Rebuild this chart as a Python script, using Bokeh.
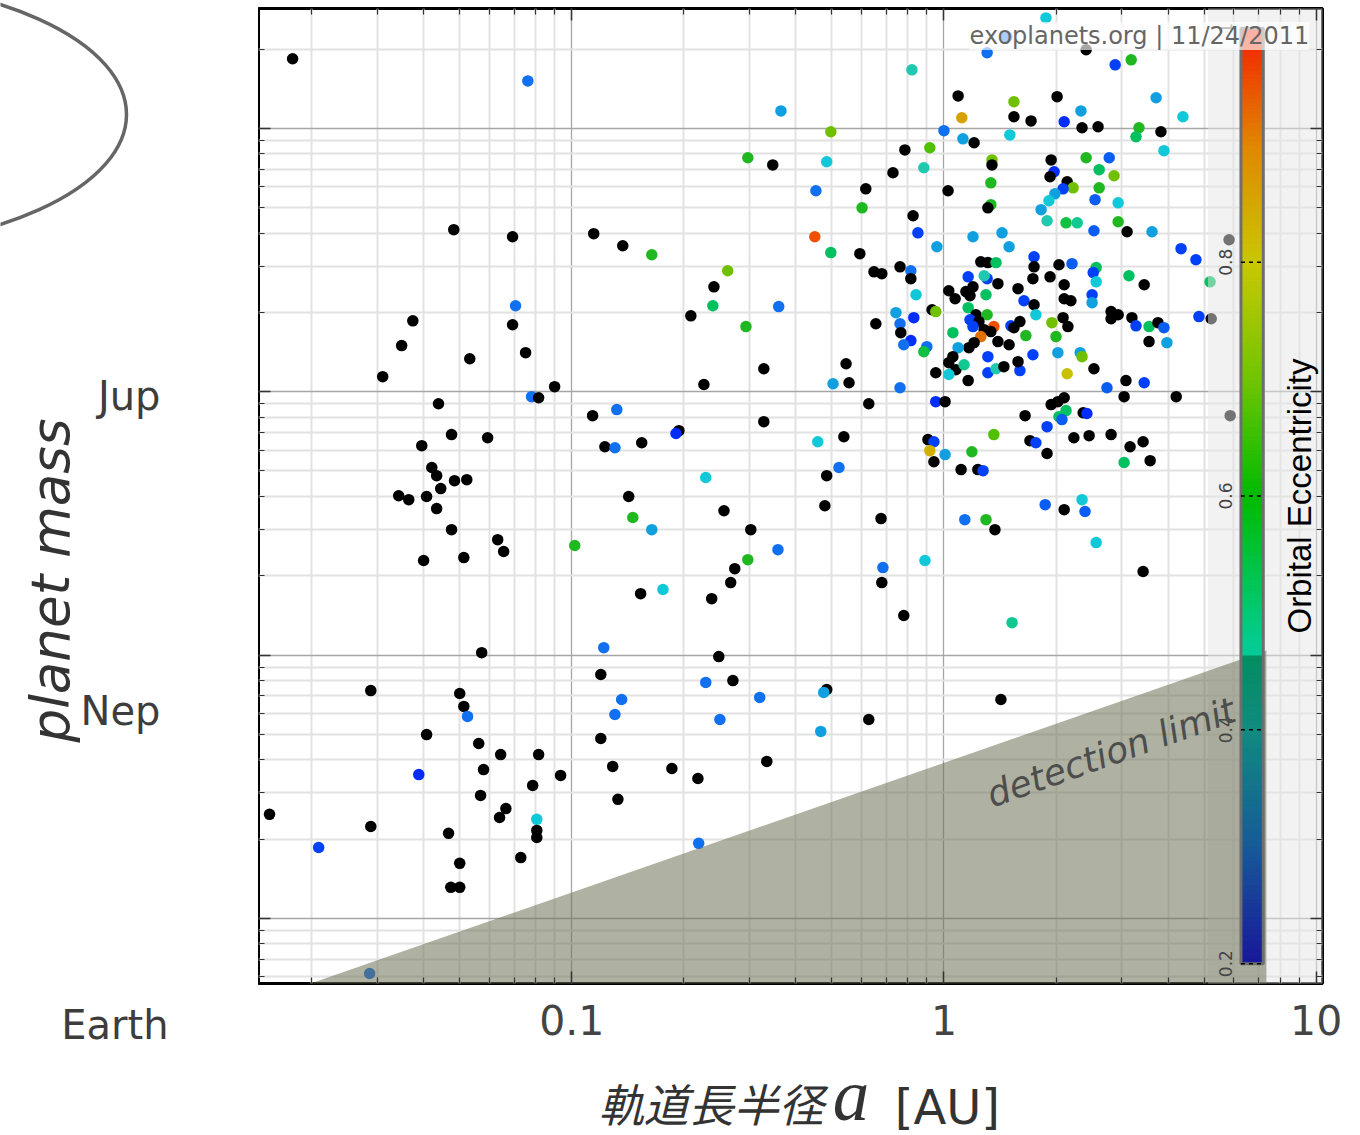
import numpy as np
from bokeh.plotting import figure
from bokeh.models import (Range1d, LogAxis, FixedTicker, NumeralTickFormatter, Label,
                          ColumnDataSource, LinearScale)
from bokeh.layouts import row, column
from bokeh.transform import linear_cmap
from bokeh.core.properties import value
from bokeh.embed import file_html
from bokeh.resources import INLINE

N = None  # eccentricity not known -> drawn black

# (log10 a [AU], log10 M [M_Jup], eccentricity)
inner_planets = [
    (-1.750, 1.264, N), (-1.118, 1.180, 0.10), (-1.317, 0.615, N), (-1.159, 0.588, N),
    (-1.151, 0.326, 0.10), (-1.427, 0.269, N), (-1.159, 0.254, N), (-1.457, 0.175, N),
    (-1.124, 0.148, N), (-1.274, 0.125, N), (-1.508, 0.057, N), (-1.046, 0.019, N),
    (-1.108, -0.019, 0.10), (-1.089, -0.023, N), (-1.358, -0.046, N), (-1.323, -0.163, N),
    (-1.226, -0.175, N), (-1.403, -0.205, N), (-1.376, -0.288, N), (-1.363, -0.319, N),
    (-1.315, -0.338, N), (-1.282, -0.334, N), (-1.352, -0.368, N), (-1.465, -0.395, N),
    (-1.438, -0.410, N), (-1.390, -0.398, N), (-1.363, -0.444, N), (-1.323, -0.524, N),
    (-1.199, -0.562, N), (-1.183, -0.607, N), (-1.290, -0.630, N), (-1.398, -0.641, N),
    (-1.242, -0.991, N), (-1.540, -1.135, N), (-1.301, -1.146, N), (-1.290, -1.195, N),
    (-1.280, -1.233, 0.10), (-1.390, -1.302, N), (-1.250, -1.336, N), (-1.191, -1.378, N),
    (-1.089, -1.378, N), (-1.237, -1.435, N), (-1.411, -1.454, 0.03), (-1.105, -1.495, N),
    (-1.030, -1.457, N), (-1.245, -1.533, N), (-1.177, -1.583, N), (-1.194, -1.617, N),
    (-1.094, -1.624, 0.20), (-1.812, -1.605, N), (-1.540, -1.651, N), (-1.680, -1.731, 0.05),
    (-1.331, -1.677, N), (-1.094, -1.666, N), (-1.094, -1.693, N), (-1.137, -1.769, N),
    (-1.301, -1.791, N), (-1.325, -1.882, N), (-1.301, -1.882, N), (-1.543, -2.209, 0.10),
]

middle_planets = [
    (-0.941, 0.600, N), (-0.863, 0.554, N), (-0.785, 0.520, 0.45), (-0.581, 0.459, 0.55),
    (-0.618, 0.398, N), (-0.621, 0.326, 0.35), (-0.680, 0.288, N), (-0.532, 0.247, 0.45),
    (-0.444, 0.323, 0.10), (-0.645, 0.027, N), (-0.484, 0.087, N), (-0.944, -0.091, N),
    (-0.879, -0.068, 0.10), (-0.911, -0.209, N), (-0.884, -0.213, 0.10), (-0.812, -0.194, N),
    (-0.712, -0.148, N), (-0.720, -0.159, 0.03), (-0.484, -0.114, N), (-0.847, -0.398, N),
    (-0.836, -0.478, 0.45), (-0.785, -0.524, 0.15), (-0.992, -0.584, 0.45), (-0.640, -0.326, 0.20),
    (-0.591, -0.452, N), (-0.519, -0.524, N), (-0.527, -0.638, 0.45), (-0.562, -0.672, N),
    (-0.573, -0.725, N), (-0.624, -0.786, N), (-0.815, -0.767, N), (-0.755, -0.751, 0.20),
    (-0.446, -0.600, 0.10), (-0.914, -0.972, 0.10), (-0.922, -1.074, N), (-0.866, -1.169, 0.10),
    (-0.884, -1.226, 0.10), (-0.605, -1.006, N), (-0.640, -1.104, 0.10), (-0.567, -1.097, N),
    (-0.495, -1.161, 0.10), (-0.602, -1.245, 0.10), (-0.922, -1.317, N), (-0.890, -1.423, N),
    (-0.876, -1.548, N), (-0.731, -1.431, N), (-0.661, -1.469, N), (-0.476, -1.404, N),
    (-0.659, -1.715, 0.10), (-0.438, 1.066, 0.15), (-0.527, 0.888, 0.45), (-0.460, 0.861, N),
    (-0.304, 0.987, 0.55), (-0.315, 0.873, 0.20), (-0.344, 0.763, 0.10), (-0.347, 0.588, 0.90),
    (-0.304, 0.528, 0.35), (-0.220, 0.698, 0.45), (-0.210, 0.770, N), (-0.226, 0.524, N),
    (-0.188, 0.455, N), (-0.167, 0.448, N), (-0.118, 0.474, N), (-0.089, 0.459, 0.10),
    (-0.089, 0.429, N), (-0.075, 0.368, 0.20), (-0.032, 0.311, N), (-0.022, 0.304, 0.55),
    (-0.129, 0.300, 0.15), (-0.183, 0.258, N), (-0.118, 0.258, 0.10), (-0.081, 0.281, 0.03),
    (-0.116, 0.224, N), (-0.089, 0.194, 0.03), (-0.108, 0.178, 0.10), (-0.046, 0.171, 0.10),
    (-0.054, 0.152, 0.40), (-0.263, 0.106, N), (-0.255, 0.034, N), (-0.298, 0.030, 0.15),
    (-0.118, 0.015, 0.10), (-0.022, 0.072, N), (-0.202, -0.046, N), (-0.022, -0.038, 0.03),
    (0.003, -0.038, N), (-0.339, -0.190, 0.20), (-0.269, -0.171, N), (-0.043, -0.182, N),
    (-0.027, -0.190, 0.05), (-0.038, -0.224, 0.72), (0.003, -0.239, 0.15), (-0.027, -0.266, N),
    (-0.282, -0.288, 0.10), (-0.315, -0.319, N), (-0.320, -0.433, N), (-0.169, -0.482, N),
    (-0.164, -0.668, 0.10), (-0.167, -0.725, N), (-0.051, -0.641, 0.20), (-0.108, -0.850, N),
    (-0.315, -1.131, N), (-0.323, -1.142, 0.15), (-0.331, -1.290, 0.15), (-0.202, -1.245, N),
    (-0.105, 0.918, N), (-0.137, 0.831, N), (-0.086, 1.222, 0.25), (-0.038, 0.926, 0.50),
    (-0.054, 0.850, 0.25), (-0.083, 0.668, N), (-0.070, 0.603, 0.05), (-0.019, 0.550, 0.15),
]

outer_planets = [
    (0.274, 1.419, 0.20), (0.382, 1.298, N), (0.169, 1.347, 0.10), (0.116, 1.287, 0.10),
    (0.503, 1.260, 0.45), (0.460, 1.241, 0.05), (0.038, 1.123, N), (0.188, 1.101, 0.55),
    (0.304, 1.120, N), (0.368, 1.066, 0.15), (0.570, 1.116, 0.15), (0.642, 1.044, 0.20),
    (0.048, 1.040, 0.75), (0.188, 1.044, N), (0.234, 1.028, N), (0.323, 1.025, 0.03),
    (0.371, 1.002, N), (0.414, 1.006, N), (0.524, 1.002, 0.45), (0.516, 0.968, 0.35),
    (0.583, 0.987, N), (0.000, 0.991, 0.10), (0.051, 0.960, 0.15), (0.081, 0.945, N),
    (0.177, 0.975, 0.20), (0.591, 0.915, 0.20), (0.129, 0.880, 0.55), (0.129, 0.861, N),
    (0.288, 0.880, N), (0.382, 0.888, 0.45), (0.444, 0.888, 0.08), (0.417, 0.843, 0.35),
    (0.457, 0.820, 0.55), (0.296, 0.835, 0.03), (0.285, 0.816, N), (0.331, 0.797, N),
    (0.347, 0.774, 0.55), (0.320, 0.770, 0.05), (0.417, 0.774, 0.45), (0.126, 0.793, 0.45),
    (0.011, 0.763, N), (0.298, 0.751, 0.15), (0.282, 0.725, 0.20), (0.406, 0.729, 0.08),
    (0.468, 0.717, 0.20), (0.126, 0.710, 0.45), (0.118, 0.698, N), (0.261, 0.691, 0.15),
    (0.277, 0.649, 0.25), (0.328, 0.641, 0.40), (0.358, 0.641, 0.30), (0.468, 0.645, 0.45),
    (0.078, 0.588, 0.15), (0.156, 0.603, 0.15), (0.175, 0.550, 0.15), (0.403, 0.611, 0.08),
    (0.492, 0.607, N), (0.559, 0.607, 0.15), (0.637, 0.543, 0.05), (0.677, 0.501, 0.05),
    (0.242, 0.512, 0.05), (0.242, 0.474, N), (0.309, 0.482, N), (0.344, 0.486, 0.08),
    (0.409, 0.471, 0.35), (0.401, 0.452, 0.05), (0.409, 0.417, 0.20), (0.497, 0.440, 0.35),
    (0.538, 0.406, N), (0.099, 0.493, N), (0.118, 0.490, N), (0.140, 0.490, 0.35),
    (0.065, 0.436, 0.05), (0.116, 0.429, 0.05), (0.108, 0.440, 0.25), (0.145, 0.410, N),
    (0.239, 0.429, N), (0.285, 0.436, N), (0.323, 0.406, N), (0.013, 0.383, N),
    (0.030, 0.353, N), (0.059, 0.380, N), (0.078, 0.398, N), (0.070, 0.364, N),
    (0.113, 0.368, 0.35), (0.199, 0.391, N), (0.215, 0.345, 0.05), (0.242, 0.330, N),
    (0.323, 0.353, N), (0.341, 0.345, N), (0.398, 0.368, 0.05), (0.398, 0.338, 0.15),
    (0.065, 0.319, 0.35), (0.086, 0.292, N), (0.116, 0.292, 0.45), (0.070, 0.273, 0.05),
    (0.094, 0.266, N), (0.078, 0.247, 0.05), (0.134, 0.247, 0.90), (0.108, 0.235, N),
    (0.126, 0.228, N), (0.099, 0.209, 0.82), (0.081, 0.186, N), (0.067, 0.167, N),
    (0.145, 0.190, N), (0.175, 0.178, N), (0.038, 0.167, 0.15), (0.024, 0.224, 0.35),
    (0.180, 0.250, 0.05), (0.188, 0.243, N), (0.204, 0.266, N), (0.220, 0.213, 0.45),
    (0.247, 0.292, 0.20), (0.290, 0.262, 0.55), (0.301, 0.209, 0.45), (0.320, 0.281, N),
    (0.333, 0.247, N), (0.449, 0.304, N), (0.468, 0.292, N), (0.449, 0.277, N),
    (0.505, 0.281, N), (0.516, 0.250, 0.05), (0.551, 0.247, 0.35), (0.575, 0.262, N),
    (0.591, 0.243, 0.08), (0.551, 0.190, N), (0.599, 0.186, 0.15), (0.685, 0.285, 0.05),
    (0.715, 0.417, 0.35), (0.718, 0.277, N), (0.766, 0.577, N), (0.769, -0.091, N),
    (0.024, 0.133, N), (0.118, 0.133, 0.05), (0.239, 0.140, 0.05), (0.306, 0.148, 0.15),
    (0.366, 0.148, 0.15), (0.371, 0.133, 0.55), (0.013, 0.110, N), (0.032, 0.083, N),
    (0.013, 0.065, 0.20), (0.054, 0.102, 0.30), (0.065, 0.042, N), (0.118, 0.072, 0.05),
    (0.140, 0.087, 0.25), (0.161, 0.095, N), (0.204, 0.080, 0.05), (0.199, 0.114, N),
    (0.331, 0.068, 0.68), (0.403, 0.087, N), (0.438, 0.015, 0.08), (0.489, 0.042, N),
    (0.538, 0.034, 0.05), (0.484, -0.019, N), (0.624, -0.019, N), (0.288, -0.049, N),
    (0.306, -0.038, N), (0.323, -0.023, N), (0.328, -0.072, 0.35), (0.218, -0.091, N),
    (0.374, -0.080, N), (0.384, -0.083, 0.03), (0.309, -0.095, 0.35), (0.317, -0.106, 0.08),
    (0.277, -0.133, 0.05), (0.134, -0.163, 0.50), (0.075, -0.228, 0.45), (0.231, -0.186, N),
    (0.247, -0.194, 0.05), (0.277, -0.235, N), (0.349, -0.175, N), (0.390, -0.167, N),
    (0.449, -0.163, N), (0.535, -0.190, N), (0.500, -0.209, N), (0.554, -0.262, N),
    (0.484, -0.269, 0.35), (0.046, -0.296, N), (0.091, -0.296, N), (0.105, -0.300, 0.05),
    (0.272, -0.429, 0.08), (0.323, -0.448, N), (0.371, -0.410, 0.20), (0.379, -0.455, 0.08),
    (0.056, -0.486, 0.10), (0.113, -0.486, 0.45), (0.137, -0.524, N), (0.409, -0.573, 0.20),
    (0.535, -0.683, N), (0.183, -0.877, 0.30), (0.153, -1.169, N),
]

# axes / ranges
x_range_au = (0.0144, 10.4)
y_range_mj = (0.00566, 28.5)
ecc_axis_range = (0.183, 1.017)
x_major = [0.01, 0.1, 1, 10]
y_major = [0.001, 0.01, 0.1, 1, 10, 100]

# colour bar
ecc_ticks = [0.2, 0.4, 0.6, 0.8, 1.0]
ecc_tick_labels = ["0.2", "0.4", "0.6", "0.8", "1"]
cbar_left, cbar_right = 6.28, 7.21
cbar_label_x = 5.69
cbar_title_x = 9.0
panel_left = 5.12

# detection limit (RV limit, M ~ a^0.5)
detection_a = [0.01545, 7.35, 7.35]
detection_m = [0.005, 0.104, 0.005]
shade = (0.69, 0.70, 0.65)   # darkening of the wedge

point_stops = [(0.00, "#0010ff"), (0.05, "#0040f8"), (0.10, "#1070f0"), (0.15, "#10a0e0"),
               (0.20, "#10c8d8"), (0.25, "#20c8b0"), (0.30, "#10c890"), (0.35, "#00c060"),
               (0.40, "#10c040"), (0.45, "#20b820"), (0.50, "#50c000"), (0.55, "#70c000"),
               (0.68, "#c8c000"), (0.72, "#d0b000"), (0.75, "#d8a000"), (0.82, "#e07000"),
               (0.90, "#f05000"), (1.00, "#ff2000")]
bar_stops = [(0.20, "#2424ee"), (0.30, "#2282ea"), (0.40, "#18c8c4"), (0.48, "#00cc8a"),
             (0.60, "#00bb00"), (0.70, "#70c400"), (0.80, "#c8c800"), (0.90, "#e08800"),
             (1.00, "#f52000")]


def hex_rgb(h):
    return tuple(int(h[i:i + 2], 16) for i in (1, 3, 5))


def interp_palette(stops, n):
    pos = [s[0] for s in stops]
    rgb = [hex_rgb(s[1]) for s in stops]
    out = []
    for t in np.linspace(pos[0], pos[-1], n):
        c = [int(round(np.interp(t, pos, [q[k] for q in rgb]))) for k in range(3)]
        out.append("#%02x%02x%02x" % tuple(c))
    return out


planets = inner_planets + middle_planets + outer_planets
log_a = np.array([p[0] for p in planets])
log_m = np.array([p[1] for p in planets])
ecc = np.array([np.nan if p[2] is None else p[2] for p in planets], dtype=float)
src = ColumnDataSource(dict(a=10 ** log_a, m=10 ** log_m, ecc=ecc))

PAGE_H = 1135
W_LEFT, W_MAIN, H_MAIN = 258, 1092, 1054
H_BOTTOM = PAGE_H - H_MAIN

p = figure(width=W_MAIN, height=H_MAIN, x_axis_type="log", y_axis_type="log",
           x_range=Range1d(*x_range_au), y_range=Range1d(*y_range_mj),
           output_backend="svg", toolbar_location=None,
           min_border_left=0, min_border_top=8, min_border_right=28, min_border_bottom=71)
p.extra_y_ranges = {"ecc": Range1d(*ecc_axis_range)}
p.extra_y_scales = {"ecc": LinearScale()}
p.outline_line_color = "black"
p.outline_line_width = 3
p.background_fill_color = "white"

x_minor = [m * 10.0 ** k for k in range(-2, 2) for m in range(2, 10)]
y_minor = [m * 10.0 ** k for k in range(-3, 2) for m in range(2, 10)]
xt = FixedTicker(ticks=x_major, minor_ticks=x_minor)
yt = FixedTicker(ticks=y_major, minor_ticks=y_minor)


def style_axis(ax, labels):
    ax.major_tick_in = 12
    ax.major_tick_out = 0
    ax.minor_tick_in = 6
    ax.minor_tick_out = 0
    ax.axis_line_color = None
    ax.major_tick_line_color = "#333333"
    ax.minor_tick_line_color = "#333333"
    ax.major_tick_line_width = 1.5
    ax.minor_tick_line_width = 1.2
    if not labels:
        ax.major_label_text_font_size = "1px"
        ax.major_label_text_alpha = 0
        ax.major_label_standoff = 0


xb = p.xaxis[0]
xb.ticker = xt
xb.formatter = NumeralTickFormatter(format="0.[0]")
style_axis(xb, True)
xb.major_label_text_font = "DejaVu Sans"
xb.major_label_text_font_size = "41px"
xb.major_label_text_color = "#444444"
xb.major_label_standoff = 21

yl = p.yaxis[0]
yl.ticker = yt
style_axis(yl, False)

xa = LogAxis(ticker=xt)
style_axis(xa, False)
p.add_layout(xa, "above")
yr = LogAxis(ticker=yt)
style_axis(yr, False)
p.add_layout(yr, "right")

for g, t in ((p.xgrid[0], xt), (p.ygrid[0], yt)):
    g.ticker = t
    g.grid_line_color = "#a6a6a6"
    g.grid_line_width = 1.3
    g.minor_grid_line_color = "#e2e2e2"
    g.minor_grid_line_width = 2

# planets
point_palette = interp_palette(point_stops, 201)
p.scatter("a", "m", source=src, size=11.5, line_color=None,
          fill_color=linear_cmap("ecc", point_palette, 0, 1, nan_color="black"))

# translucent panel behind the colour bar
p.quad(left=panel_left, right=30, bottom=1e-4, top=1e3, fill_color="#e6e6e6",
       fill_alpha=0.5, line_color=None)

# detection limit wedge
p.patch(detection_a, detection_m, fill_color="#6e7258", fill_alpha=0.55, line_color=None)

# colour bar (the part lying inside the wedge is shaded like the wedge)
nseg = 200
edges = np.linspace(ecc_ticks[0], ecc_ticks[-1], nseg + 1)
bar_cols = interp_palette(bar_stops, nseg)
bar_mid_a = np.sqrt(cbar_left * cbar_right)
slope = np.log10(detection_m[1] / detection_m[0]) / np.log10(detection_a[1] / detection_a[0])
edge_m = detection_m[1] * (bar_mid_a / detection_a[1]) ** slope
ly0, ly1 = np.log10(y_range_mj[0]), np.log10(y_range_mj[1])
edge_ecc = ecc_axis_range[0] + (np.log10(edge_m) - ly0) / (ly1 - ly0) * (ecc_axis_range[1] - ecc_axis_range[0])
shaded = []
for c, lo in zip(bar_cols, edges[:-1]):
    if lo < edge_ecc:
        r, g, b = hex_rgb(c)
        c = "#%02x%02x%02x" % (int(r * shade[0]), int(g * shade[1]), int(b * shade[2]))
    shaded.append(c)
p.quad(left=cbar_left, right=cbar_right, bottom=edges[:-1], top=edges[1:],
       fill_color=shaded, line_color=shaded, line_width=1, y_range_name="ecc")
p.quad(left=cbar_left, right=cbar_right, bottom=ecc_ticks[0], top=ecc_ticks[-1],
       fill_color=None, line_color="#6e6e6e", line_width=3, y_range_name="ecc")
p.segment(x0=cbar_left, x1=cbar_right, y0=ecc_ticks[:-1], y1=ecc_ticks[:-1],
          line_color="black", line_width=1.5, line_dash="4 4", y_range_name="ecc")
p.text(x=[cbar_label_x] * len(ecc_ticks), y=ecc_ticks, text=ecc_tick_labels,
       angle=np.pi / 2, text_align="center", text_baseline="middle",
       text_font=value("DejaVu Sans"), text_font_size="17px", text_color="#444444",
       y_range_name="ecc")
p.text(x=[cbar_title_x], y=[0.6], text=["Orbital Eccentricity"], angle=np.pi / 2,
       text_align="center", text_baseline="middle", text_font=value("Liberation Sans"),
       text_font_size="33px", text_color="black", y_range_name="ecc")

p.text(x=[2.81], y=[0.0427], text=["detection limit"], angle=np.radians(19.5),
       text_align="center", text_baseline="middle", text_font=value("DejaVu Sans"),
       text_font_style="italic", text_font_size="36px", text_color="#4d4d4d")

# watermark
p.add_layout(Label(x=9.58, y=22.4, text="exoplanets.org | 11/24/2011", text_align="right",
                   text_baseline="middle", text_font="DejaVu Sans", text_font_size="24px",
                   text_color="#666666", background_fill_color="white",
                   background_fill_alpha=0.65))

# ---- left column: orbit sketch, mass labels, y title (page-pixel frame, y up) ----
left = figure(width=W_LEFT, height=PAGE_H, x_range=Range1d(0, W_LEFT),
              y_range=Range1d(0, PAGE_H), output_backend="svg", toolbar_location=None,
              x_axis_location=None, y_axis_location=None, min_border=0,
              outline_line_color=None)
left.grid.visible = False
left.ellipse(x=[-174], y=[PAGE_H - 114], width=[600], height=[270], fill_color=None,
             line_color="#666666", line_width=3.5)
mass_labels = ["Jup", "Nep", "Earth"]
left.text(x=[160, 160, 168], y=[PAGE_H - 395, PAGE_H - 710, PAGE_H - 1024], text=mass_labels,
          text_align="right", text_baseline="middle", text_font=value("DejaVu Sans"),
          text_font_size="40px", text_color="#3d3d3d")
left.text(x=[50], y=[PAGE_H - 580], text=["planet mass"], angle=np.pi / 2, text_align="center",
          text_baseline="middle", text_font=value("DejaVu Sans"),
          text_font_style="italic", text_font_size="53px", text_color="#333333")

# ---- bottom strip: x-axis title ----
bottom = figure(width=W_MAIN, height=H_BOTTOM, x_range=Range1d(W_LEFT, W_LEFT + W_MAIN),
                y_range=Range1d(0, H_BOTTOM), output_backend="svg", toolbar_location=None,
                x_axis_location=None, y_axis_location=None, min_border=0,
                outline_line_color=None)
bottom.grid.visible = False
bottom.text(x=[838], y=[PAGE_H - 1102], text=["軌道長半径"], text_align="right",
            text_baseline="middle", text_font=value("Noto Sans CJK JP"),
            text_font_style="italic", text_font_size="45px", text_color="#333333")
bottom.text(x=[866], y=[PAGE_H - 1095], text=["a"], text_align="center", text_baseline="middle",
            text_font=value("Liberation Serif"), text_font_style="italic",
            text_font_size="73px", text_color="#333333")
bottom.text(x=[965], y=[PAGE_H - 1106], text=["[AU]"], text_align="center",
            text_baseline="middle", text_font=value("DejaVu Sans"), text_font_size="48px",
            text_color="#333333")

layout = row(left, column(p, bottom))
open("out.html", "w").write(file_html(layout, INLINE))
